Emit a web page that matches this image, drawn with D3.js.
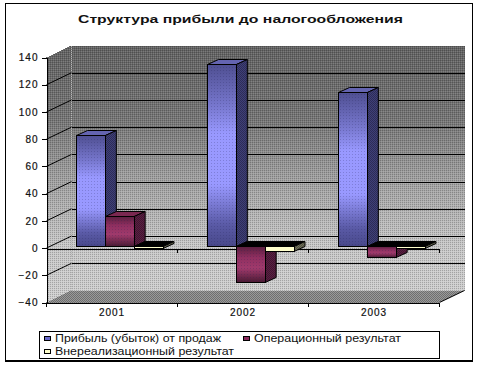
<!DOCTYPE html>
<html><head><meta charset="utf-8">
<script src="https://cdn.jsdelivr.net/npm/d3@7"></script>
<style>html,body{margin:0;background:#fff}svg{display:block}text{font-family:"Liberation Sans",Arial,sans-serif;fill:#111}</style>
</head><body><svg id="c" width="480" height="365" shape-rendering="crispEdges"></svg>
<script>
const title = "Структура прибыли до налогообложения";
const categories = ["2001", "2002", "2003"];
const seriesNames = ["Прибыль (убыток) от продаж", "Операционный результат", "Внереализационный результат"];
const profit = [81.5, 133.5, 112.5];
const operating = [21.5, -27, -8.5];
const nonOperating = [-1.5, -4, -1.5];
const yTicks = [-40, -20, 0, 20, 40, 60, 80, 100, 120, 140];

const seriesValues = [profit, operating, nonOperating];
const W = {l: 46.5, r: 439.5, t: 57.5, b: 302.5, dx: 25, dy: -12};
const barShift = {dx: 7.7, dy: -2.5}, barDepth = {dx: 11, dy: -5};
const svg = d3.select("#c");
const x = d3.scaleBand().domain(categories).range([W.l, W.r]);
const inner = d3.scaleBand().domain([0, 1, 2]).range([30, 116.5]);
const y = d3.scaleLinear().domain([-40, 140]).range([W.b, W.t]);
const defs = svg.append("defs");

function grad(id, stops, attrs) {
  const g = defs.append("linearGradient").attr("id", id).attr("x1", 0).attr("x2", 0).attr("y1", 0).attr("y2", 1);
  if (attrs) g.attr("gradientUnits", "userSpaceOnUse").attr("y1", attrs[0]).attr("y2", attrs[1]);
  stops.forEach(s => g.append("stop").attr("offset", s[0]).attr("stop-color", s[1]));
}
function dots(id, size, cells, color) {
  const p = defs.append("pattern").attr("id", id).attr("width", size).attr("height", size).attr("patternUnits", "userSpaceOnUse");
  cells.forEach(c => p.append("rect").attr("x", c[0]).attr("y", c[1]).attr("width", 1).attr("height", 1).attr("fill", color));
}
grad("wall", [[0, "#626262"], [.28, "#747474"], [.52, "#a0a0a0"], [.78, "#c8c8c8"], [1, "#d0d0d0"]], [45, 302]);
grad("s0", [[0, "#4f4f92"], [.22, "#7676cc"], [.38, "#9999ff"], [.66, "#9999ff"], [.88, "#5a5aa6"], [1, "#48488a"]]);
grad("s1", [[0, "#5a1f3f"], [.3, "#8f2f60"], [.6, "#a03a6c"], [1, "#4a1a33"]]);
grad("s2", [[0, "#ffffcc"], [1, "#ffffcc"]]);
dots("wallDots", 2, [[0, 0]], "rgba(0,0,0,.2)");
dots("wallDotsL", 2, [[1, 1]], "rgba(255,255,255,.15)");
dots("barDots", 3, [[1, 1]], "rgba(30,30,80,.22)");
dots("check", 2, [[0, 0], [1, 1]], "rgba(0,0,0,.28)");
const poly = pts => pts.map(p => p.join(",")).join(" ");

// walls and floor
const wallPts = [[W.l + W.dx, W.t + W.dy], [W.r + W.dx, W.t + W.dy], [W.r + W.dx, W.b + W.dy], [W.l + W.dx, W.b + W.dy]];
const leftPts = [[W.l, W.t], [W.l + W.dx, W.t + W.dy], [W.l + W.dx, W.b + W.dy], [W.l, W.b]];
[wallPts, leftPts].forEach(pts => ["url(#wall)", "url(#wallDots)", "url(#wallDotsL)"].forEach(f =>
  svg.append("polygon").attr("points", poly(pts)).attr("fill", f)));
const floorPts = [[W.l, W.b], [W.l + W.dx, W.b + W.dy], [W.r + W.dx, W.b + W.dy], [W.r, W.b]];
svg.append("polygon").attr("points", poly(floorPts)).attr("fill", "#9a9a9a");
svg.append("polygon").attr("points", poly(floorPts)).attr("fill", "url(#check)");
svg.append("line").attr("x1", W.l + W.dx).attr("x2", W.l + W.dx).attr("y1", W.t + W.dy).attr("y2", W.b + W.dy)
  .attr("stroke", "#b8b8b8").attr("stroke-dasharray", "1 1");

// grid
const grid = svg.append("g").attr("stroke", "#000").attr("fill", "none").attr("shape-rendering", "auto");
yTicks.filter(t => t > -40 && t < 140).forEach(t => {
  grid.append("path").attr("d", `M${W.l},${y(t)}L${W.l + W.dx},${y(t) + W.dy}`).attr("stroke-width", 1);
  grid.append("path").attr("d", `M${W.l + W.dx},${Math.round(y(t) + W.dy) + .5}H${W.r + W.dx}`).attr("shape-rendering", "crispEdges");
});
grid.append("path").attr("d", `M${W.r},${W.b}L${W.r + W.dx},${W.b + W.dy}`);

// zero axis
const zero = svg.append("g").attr("transform", `translate(0,${Math.round(y(0)) + .5})`)
  .call(d3.axisBottom(x).tickValues([]).tickSize(0).tickSizeOuter(0));
zero.select(".domain").attr("stroke", "#000");
zero.selectAll(".m").data(x.domain()).enter().append("line").attr("stroke", "#000")
  .attr("x1", d => x(d) + x.bandwidth()).attr("x2", d => x(d) + x.bandwidth()).attr("y1", 0).attr("y2", 4);

// bars
categories.forEach((c, ci) => {
  seriesValues.forEach((vals, si) => {
    const v = vals[ci];
    const bx = x(c) + inner(si), bw = inner.bandwidth();
    const y1 = Math.round(y(Math.max(v, 0)) + barShift.dy) + .5, y2 = Math.round(y(Math.min(v, 0)) + barShift.dy) + .5;
    const d = barDepth, g = svg.append("g").attr("stroke", "#000").attr("stroke-width", 1);
    const topFill = v < 0 ? "#000" : ["#6464b0", "#7a2850", "#000"][si];
    const sideFill = ["#3f3f78", "#5a1f42", "#70705a"][si];
    const sidePts = poly([[bx + bw, y1], [bx + bw + d.dx, y1 + d.dy], [bx + bw + d.dx, y2 + d.dy], [bx + bw, y2]]);
    g.append("polygon").attr("points", poly([[bx, y1], [bx + d.dx, y1 + d.dy], [bx + bw + d.dx, y1 + d.dy], [bx + bw, y1]])).attr("fill", topFill).attr("shape-rendering", "auto");
    g.append("polygon").attr("points", sidePts).attr("fill", sideFill).attr("shape-rendering", "auto");
    g.append("polygon").attr("points", sidePts).attr("fill", "url(#check)").attr("stroke", "none");
    g.append("rect").attr("x", bx).attr("y", y1).attr("width", bw).attr("height", Math.max(y2 - y1, 1)).attr("fill", `url(#s${si})`);
    if (si < 2) g.append("rect").attr("x", bx + 1).attr("y", y1 + 1).attr("width", Math.max(bw - 1, 0)).attr("height", Math.max(y2 - y1 - 1, 0)).attr("fill", "url(#barDots)").attr("stroke", "none");
  });
});

// axes
const yAxis = svg.append("g").attr("transform", `translate(${W.l},0)`)
  .call(d3.axisLeft(y).tickValues(yTicks).tickSize(5).tickPadding(3).tickFormat(d3.format("d")));
const xAxis = svg.append("g").attr("transform", `translate(0,${W.b})`)
  .call(d3.axisBottom(x).tickSize(0).tickSizeOuter(0).tickPadding(6));
xAxis.selectAll(".mark").data(categories).enter().append("line").attr("stroke", "#000")
  .attr("x1", d => x(d) + x.bandwidth()).attr("x2", d => x(d) + x.bandwidth()).attr("y1", 0).attr("y2", 4);
xAxis.append("line").attr("stroke", "#000").attr("x1", W.l).attr("x2", W.l).attr("y1", 0).attr("y2", 4);
[yAxis, xAxis].forEach(a => a.selectAll(".domain,.tick line").attr("stroke", "#000"));
svg.selectAll(".tick text").attr("font-size", 10).attr("letter-spacing", "1px").attr("fill", "#111")
  .attr("font-family", '"Liberation Sans",Arial,sans-serif').attr("stroke", "#111").attr("stroke-width", .2);

// frame
svg.append("rect").attr("x", 5.5).attr("y", 3.5).attr("width", 467).attr("height", 357.5)
  .attr("fill", "none").attr("stroke", "#000").attr("stroke-width", 1.5);
svg.insert("rect", ":first-child").attr("width", 480).attr("height", 365).attr("fill", "#fff");

// title
svg.append("text").attr("x", 240.5).attr("y", 23).attr("text-anchor", "middle").attr("font-size", 10.5)
  .attr("font-weight", "bold").attr("textLength", 325).attr("lengthAdjust", "spacingAndGlyphs").text(title);

// legend
svg.append("rect").attr("x", 39.5).attr("y", 331.5).attr("width", 400).attr("height", 27).attr("fill", "#fff").attr("stroke", "#000");
const legendPos = [[44, 338, 166], [243, 338, 147], [44, 351, 179]];
const swatch = ["#6a6acc", "#8a2a5c", "#ffffcc"];
seriesNames.forEach((n, i) => {
  const p = legendPos[i];
  svg.append("rect").attr("x", p[0] + .5).attr("y", p[1] - 1.5).attr("width", 6).attr("height", 4).attr("fill", swatch[i]).attr("stroke", "#000");
  svg.append("text").attr("x", p[0] + 11).attr("y", p[1] + 4).attr("font-size", 10).attr("textLength", p[2])
    .attr("lengthAdjust", "spacingAndGlyphs").text(n);
});
</script></body></html>
